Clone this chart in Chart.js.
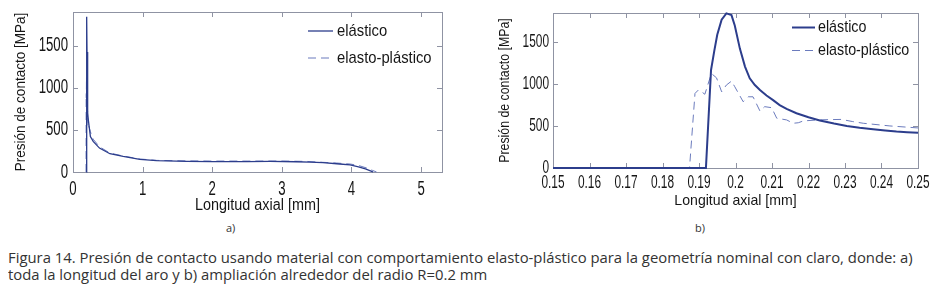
<!DOCTYPE html>
<html><head><meta charset="utf-8">
<script src="https://cdn.jsdelivr.net/npm/chart.js@4.4.1/dist/chart.umd.min.js"></script>
<style>
html,body{margin:0;padding:0;background:#fff;width:937px;height:292px;overflow:hidden;position:relative;}
#c1{position:absolute;left:0;top:0;}
#c2{position:absolute;left:470px;top:0;}
.sub{position:absolute;font-family:"Open Sans";font-size:11px;color:#333;line-height:12px;}
.cap{position:absolute;left:8px;font-family:"Open Sans";font-size:15px;color:#333;white-space:nowrap;line-height:17px;transform-origin:0 0;transform:scaleX(0.99);}
</style></head><body>
<canvas id="c1" width="468" height="220" style="width:468px;height:220px"></canvas>
<canvas id="c2" width="467" height="220" style="width:467px;height:220px"></canvas>
<div class="sub" style="left:226px;top:222px">a)</div>
<div class="sub" style="left:695px;top:222px">b)</div>
<div class="cap" style="top:249px">Figura 14. Presión de contacto usando material con comportamiento elasto-plástico para la geometría nominal con claro, donde: a)</div>
<div class="cap" style="top:266px">toda la longitud del aro y b) ampliación alrededor del radio R=0.2 mm</div>
<script>
// ---------- DATA ----------
const seriesNames = ['elástico', 'elasto-plástico'];
const xTitle = 'Longitud axial [mm]';
const yTitle = 'Presión de contacto [MPa]';

// a) whole length
const fullElasticX = [0.1919, 0.1933, 0.1962, 0.1975, 0.1989, 0.2012, 0.2067, 0.214, 0.22, 0.25, 0.29, 0.38, 0.53, 0.72, 0.96, 1.2, 1.63, 2.0, 2.5, 2.83, 3.2, 3.4, 3.59, 3.83, 3.98, 4.1, 4.2, 4.29, 4.31];
const fullElasticY = [0, 1170, 1770, 1845, 1825, 1425, 930, 705, 620, 422, 363, 284, 217, 185, 150, 134, 126, 124, 124, 125, 122, 118, 112, 95, 84, 62, 38, 8, 0];
const fullPlasticX = [0.1874, 0.1889, 0.1898, 0.1916, 0.1934, 0.1962, 0.1989, 0.2021, 0.2035, 0.2067, 0.2099, 0.2113, 0.214, 0.2172, 0.22, 0.25, 0.29, 0.38, 0.53, 0.72, 0.96, 1.2, 1.63, 2.0, 2.5, 3.0, 3.35, 3.59, 3.78, 3.98, 4.1, 4.22, 4.3, 4.36];
const fullPlasticY = [0, 890, 930, 880, 1128, 910, 1037, 791, 850, 680, 720, 594, 574, 540, 566, 478, 390, 300, 225, 190, 155, 138, 132, 130, 130, 130, 126, 115, 107, 95, 78, 47, 20, 0];
const fullXTicks = [0, 1, 2, 3, 4, 5];
const fullXTickLabels = ['0', '1', '2', '3', '4', '5'];
const fullYTicks = [0, 500, 1000, 1500];
const fullYTickLabels = ['0', '500', '1000', '1500'];

// b) zoom around R = 0.2 mm
const zoomElasticX = [0.15, 0.1919, 0.1933, 0.1942, 0.195, 0.1962, 0.1975, 0.1989, 0.1998, 0.2012, 0.2026, 0.2039, 0.2053, 0.2067, 0.2085, 0.2103, 0.2121, 0.214, 0.2167, 0.22, 0.2231, 0.227, 0.2305, 0.234, 0.2377, 0.241, 0.2441, 0.247, 0.25];
const zoomElasticY = [0, 0, 1170, 1400, 1590, 1770, 1845, 1825, 1700, 1425, 1210, 1070, 990, 930, 865, 810, 750, 705, 653, 605, 566, 530, 502, 480, 463, 448, 435, 428, 422];
const zoomPlasticX = [0.15, 0.1874, 0.1889, 0.1898, 0.1907, 0.1916, 0.1934, 0.1948, 0.1962, 0.1975, 0.1989, 0.1998, 0.2021, 0.2035, 0.2048, 0.2067, 0.208, 0.2099, 0.2113, 0.214, 0.2158, 0.2172, 0.2186, 0.223, 0.229, 0.232, 0.235, 0.2423, 0.25];
const zoomPlasticY = [0, 0, 890, 930, 910, 880, 1128, 1076, 910, 990, 1037, 970, 791, 850, 850, 680, 732, 720, 594, 574, 534, 540, 562, 575, 580, 555, 534, 502, 478];
const zoomXTicks = [0.15, 0.16, 0.17, 0.18, 0.19, 0.2, 0.21, 0.22, 0.23, 0.24, 0.25];
const zoomXTickLabels = ['0.15', '0.16', '0.17', '0.18', '0.19', '0.2', '0.21', '0.22', '0.23', '0.24', '0.25'];
const zoomYTicks = [0, 500, 1000, 1500];
const zoomYTickLabels = ['0', '500', '1000', '1500'];

// ---------- helpers ----------
const TXT = '#161616';
const FRAME = '#8f93a3';
const C_EL = '#2c3d8c';
const C_PL = '#6b7bbd';
const FONT = '"Liberation Sans", Arial, sans-serif';

function pts(xs, ys) { return xs.map((v, i) => ({ x: v, y: ys[i] })); }

function condense(canvas, map) {
  const ctx = canvas.getContext('2d');
  const orig = ctx.fillText.bind(ctx);
  ctx.fillText = function (t, x, y, mw) {
    const m = /(\d+(?:\.\d+)?)px/.exec(this.font);
    const sx = m && map[m[1]] ? map[m[1]] : 1;
    this.save();
    this.translate(x, y);
    this.scale(sx, 1);
    if (mw !== undefined) orig(t, 0, 0, mw / sx); else orig(t, 0, 0);
    this.restore();
  };
}

const framePlugin = {
  id: 'frame',
  beforeDatasetsDraw(chart) {
    const { ctx, chartArea: a, scales } = chart;
    ctx.save();
    ctx.strokeStyle = FRAME;
    ctx.lineWidth = 1;
    ctx.strokeRect(Math.round(a.left) + 0.5, Math.round(a.top) + 0.5, Math.round(a.right - a.left), Math.round(a.bottom - a.top));
    ctx.beginPath();
    const L = 5;
    scales.x.ticks.forEach(t => {
      const p = Math.round(scales.x.getPixelForValue(t.value)) + 0.5;
      ctx.moveTo(p, a.bottom); ctx.lineTo(p, a.bottom - L);
      ctx.moveTo(p, a.top); ctx.lineTo(p, a.top + L);
    });
    scales.y.ticks.forEach(t => {
      const p = Math.round(scales.y.getPixelForValue(t.value)) + 0.5;
      ctx.moveTo(a.left, p); ctx.lineTo(a.left + L, p);
      ctx.moveTo(a.right, p); ctx.lineTo(a.right - L, p);
    });
    ctx.stroke();
    ctx.restore();
  }
};

const legendPlugin = {
  id: 'innerLegend',
  afterDraw(chart, args, o) {
    const { ctx } = chart;
    ctx.save();
    chart.data.datasets.forEach((ds, i) => {
      const y = o.rows[i];
      ctx.strokeStyle = ds.borderColor;
      ctx.lineWidth = ds.borderWidth;
      ctx.setLineDash(ds.borderDash || []);
      ctx.beginPath();
      ctx.moveTo(o.x0, y); ctx.lineTo(o.x1, y);
      ctx.stroke();
      ctx.setLineDash([]);
      ctx.fillStyle = TXT;
      ctx.font = o.size + 'px ' + FONT;
      ctx.textAlign = 'left';
      ctx.textBaseline = 'middle';
      ctx.fillText(ds.label, o.tx, y);
    });
    ctx.restore();
  }
};

function makeChart(id, cfg) {
  const canvas = document.getElementById(id);
  condense(canvas, cfg.sx);
  return new Chart(canvas, {
    type: 'line',
    data: {
      datasets: [
        { label: seriesNames[0], data: pts(cfg.ex, cfg.ey), borderColor: C_EL, borderWidth: cfg.elW, pointRadius: 0, tension: 0, clip: 4 },
        { label: seriesNames[1], data: pts(cfg.px, cfg.py), borderColor: C_PL, borderWidth: 1, borderDash: [8, 5], pointRadius: 0, tension: 0, clip: 4 }
      ]
    },
    plugins: [framePlugin, legendPlugin],
    options: {
      responsive: false, animation: false, devicePixelRatio: 1,
      layout: { padding: cfg.pad },
      plugins: { legend: { display: false }, tooltip: { enabled: false }, innerLegend: cfg.legend },
      scales: {
        x: {
          type: 'linear', min: cfg.xmin, max: cfg.xmax,
          grid: { display: false, drawTicks: false }, border: { display: false },
          ticks: { autoSkip: false, maxRotation: 0, padding: cfg.xtp, color: TXT, font: { family: FONT, size: cfg.tickSize },
                   callback: (v, i) => cfg.xlab[i] },
          afterBuildTicks: s => { s.ticks = cfg.xticks.map(v => ({ value: v })); },
          afterFit: s => { s.height = cfg.xh; s.paddingLeft = 0; s.paddingRight = 0; },
          title: { display: true, text: xTitle, color: TXT, font: { family: FONT, size: cfg.xtSize, lineHeight: 1.2 }, padding: { top: 0, bottom: cfg.xtPad } }
        },
        y: {
          type: 'linear', min: 0, max: cfg.ymax,
          grid: { display: false, drawTicks: false }, border: { display: false },
          ticks: { autoSkip: false, padding: cfg.ytp, color: TXT, font: { family: FONT, size: cfg.tickSize },
                   callback: (v, i) => cfg.ylab[i] },
          afterBuildTicks: s => { s.ticks = cfg.yticks.map(v => ({ value: v })); },
          afterFit: s => { s.width = cfg.yw; s.paddingTop = 0; s.paddingBottom = 0; },
          title: { display: true, text: yTitle, color: TXT, font: { family: FONT, size: cfg.ytSize, lineHeight: 1.2 }, padding: { top: cfg.ytPad, bottom: 0 } }
        }
      }
    }
  });
}

makeChart('c1', {
  ex: fullElasticX, ey: fullElasticY, px: fullPlasticX, py: fullPlasticY, elW: 1.3,
  xmin: 0, xmax: 5.3, ymax: 1900,
  xticks: fullXTicks, xlab: fullXTickLabels, yticks: fullYTicks, ylab: fullYTickLabels,
  pad: { left: 0, top: 12, right: 26, bottom: 0 }, xh: 48, yw: 73,
  tickSize: 20, xtp: 5, ytp: 5, xtSize: 16, xtPad: 5, ytSize: 15, ytPad: 12,
  sx: { '20': 0.66, '16': 0.9, '15': 0.9, '17': 0.87 },
  legend: { x0: 308, x1: 333, tx: 337, rows: [31, 58], size: 17 }
});

makeChart('c2', {
  ex: zoomElasticX, ey: zoomElasticY, px: zoomPlasticX, py: zoomPlasticY, elW: 2,
  xmin: 0.15, xmax: 0.25, ymax: 1850,
  xticks: zoomXTicks, xlab: zoomXTickLabels, yticks: zoomYTicks, ylab: zoomYTickLabels,
  pad: { left: 0, top: 13, right: 19, bottom: 0 }, xh: 52, yw: 83,
  tickSize: 18, xtp: 4, ytp: 4, xtSize: 15, xtPad: 10, ytSize: 14, ytPad: 27,
  sx: { '18': 0.66, '15': 0.94, '14': 0.88, '17': 0.84 },
  legend: { x0: 322, x1: 345, tx: 348, rows: [27.5, 50.5], size: 17 }
});
</script>
</body></html>
